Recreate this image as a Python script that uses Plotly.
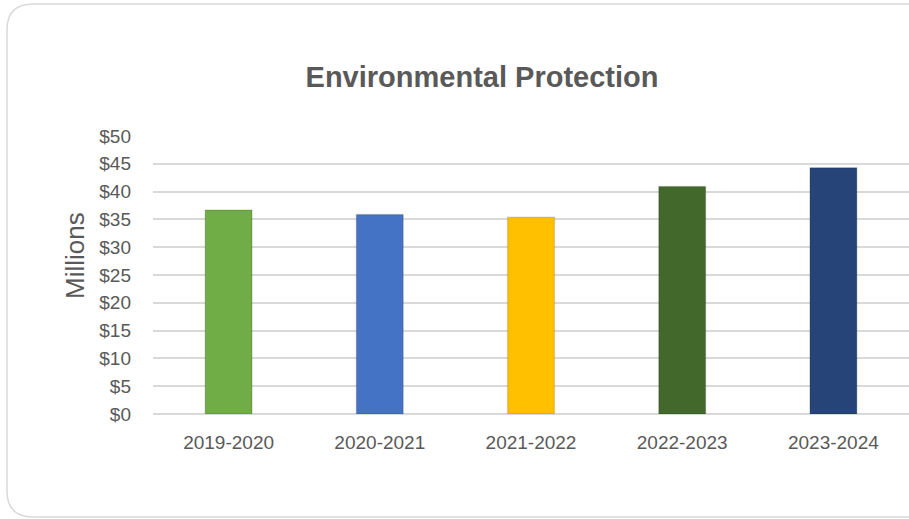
import plotly.graph_objects as go

# Environmental Protection spending, millions of dollars
years = ['2019-2020', '2020-2021', '2021-2022', '2022-2023', '2023-2024']
spending = [36.7, 35.9, 35.4, 40.9, 44.3]
bar_colors = ['#70AD47', '#4472C4', '#FFC000', '#43682B', '#264478']
y_ticks = list(range(0, 55, 5))

W, H = 909, 519
ML, MR, MT, MB = 153, 0, 136, 105
PW, PH = W - ML - MR, H - MT - MB


def px(x, y):
    # pixel -> paper coords
    return (x - ML) / PW, (H - MB - y) / PH


fig = go.Figure()
fig.add_trace(go.Bar(x=years, y=spending,
                     marker=dict(color=bar_colors,
                                 line=dict(color='rgba(0,0,0,0.12)', width=1.5)),
                     width=0.31, hoverinfo='x+y'))

# rounded chart-area border
x0, y0, x1, y1, r = 7, 4, 940, 517, 26
pts = []
path = 'M {},{} L {},{} Q {},{} {},{} L {},{} Q {},{} {},{} L {},{} Q {},{} {},{} L {},{} Q {},{} {},{} Z'
coords = [(x0 + r, y0), (x1 - r, y0), (x1, y0), (x1, y0 + r), (x1, y1 - r), (x1, y1), (x1 - r, y1),
          (x0 + r, y1), (x0, y1), (x0, y1 - r), (x0, y0 + r), (x0, y0), (x0 + r, y0)]
for cx, cy in coords:
    pts.extend(px(cx, cy))
fig.add_shape(type='path', xref='paper', yref='paper', path=path.format(*pts),
              line=dict(color='#D9D9D9', width=1.5), layer='below')

ax, ay = px(75, 256)
fig.add_annotation(text='Millions', xref='paper', yref='paper', x=ax, y=ay,
                   xanchor='center', yanchor='middle',
                   textangle=-90, showarrow=False,
                   font=dict(size=26, color='#595959'))

fig.update_layout(
    width=W, height=H,
    margin=dict(l=ML, r=MR, t=MT, b=MB),
    paper_bgcolor='white', plot_bgcolor='white',
    font=dict(family='Liberation Sans, Arial, sans-serif', color='#595959', size=19),
    title=dict(text='<b>Environmental Protection</b>', x=482 / W, xanchor='center',
               y=1 - 77 / H, yanchor='middle',
               font=dict(size=29, color='#595959')),
    showlegend=False,
)
fig.update_yaxes(range=[0, 50], tickvals=y_ticks,
                 ticktext=['$' + str(v) for v in y_ticks],
                 showgrid=True, gridcolor='#D9D9D9', gridwidth=1.5,
                 zeroline=True, zerolinecolor='#D9D9D9', zerolinewidth=1.5,
                 showline=False, ticks='', ticklabelstandoff=21,
                 tickfont=dict(size=19, color='#595959'))
fig.update_xaxes(showgrid=False, showline=False, ticks='',
                 ticklabelstandoff=15,
                 tickfont=dict(size=19, color='#595959'))

fig.write_html('out.html', config={'displayModeBar': False},
               post_script="document.body.style.margin='0';")
